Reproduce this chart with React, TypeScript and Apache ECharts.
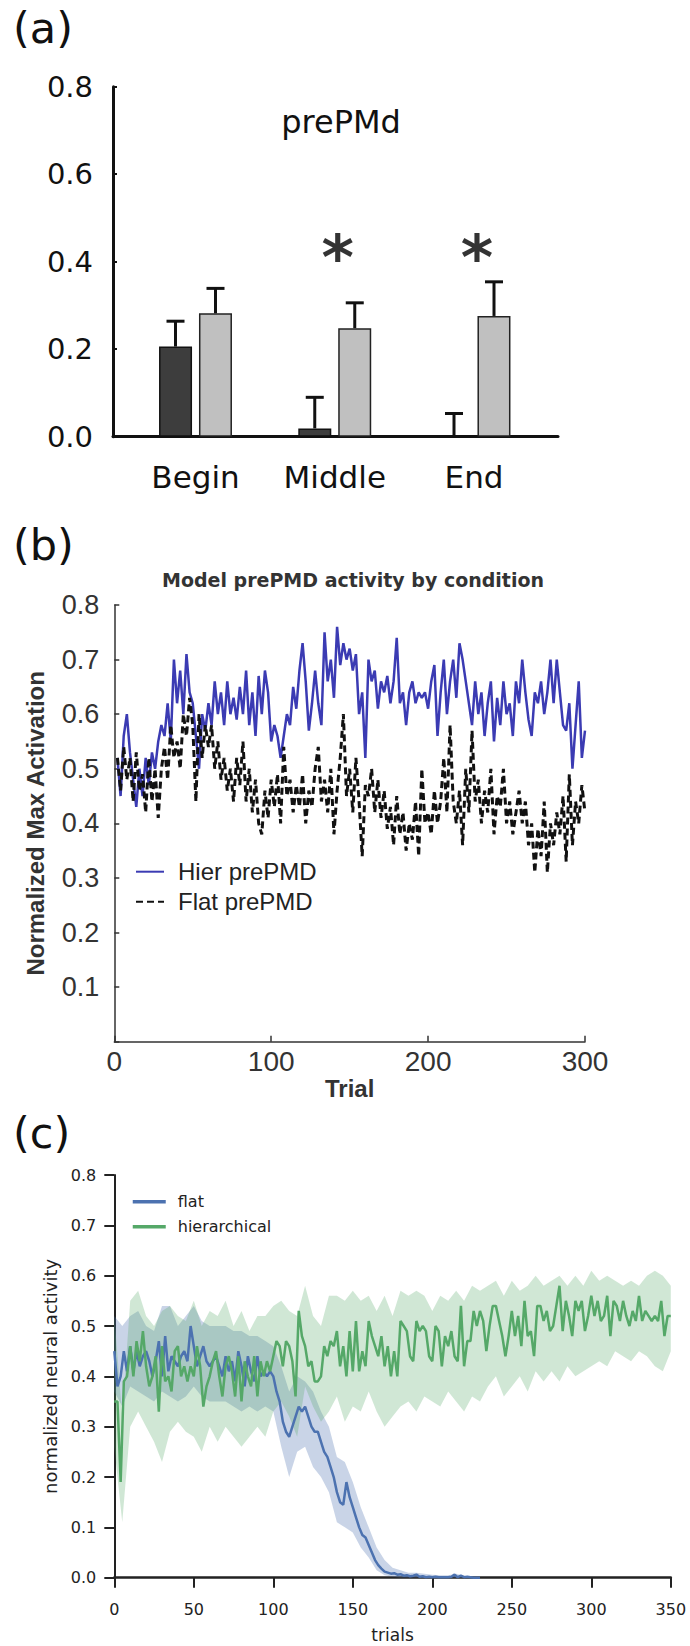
import React, { useEffect, useRef } from 'react';
import * as echarts from 'echarts';

// ---------- Panel (a) data ----------
const categoriesA = ['Begin', 'Middle', 'End'];
const darkMeans = [0.206, 0.019, 0.0];
const darkErrors = [0.058, 0.071, 0.053];
const lightMeans = [0.282, 0.248, 0.276];
const lightErrors = [0.057, 0.058, 0.078];
const significant = [false, true, true];
const asteriskLevel = 0.41;

// ---------- Panel (b) data (trials 2,4,...,300) ----------
const trialStartB = 2;
const trialStepB = 2;
const hierB = [
  0.52, 0.45, 0.56, 0.60, 0.53, 0.48, 0.43, 0.50, 0.45, 0.52,
  0.47, 0.53, 0.50, 0.55, 0.58, 0.56, 0.62, 0.55, 0.70, 0.62,
  0.68, 0.60, 0.71, 0.64, 0.62, 0.56, 0.50, 0.60, 0.57, 0.62,
  0.58, 0.66, 0.60, 0.64, 0.58, 0.66, 0.60, 0.63, 0.59, 0.65,
  0.60, 0.68, 0.58, 0.64, 0.56, 0.67, 0.60, 0.68, 0.64, 0.55,
  0.58, 0.56, 0.52, 0.56, 0.60, 0.58, 0.65, 0.61, 0.68, 0.73,
  0.66, 0.57, 0.62, 0.68, 0.62, 0.58, 0.75, 0.66, 0.70, 0.63,
  0.76, 0.69, 0.73, 0.70, 0.72, 0.68, 0.71, 0.60, 0.64, 0.52,
  0.70, 0.66, 0.68, 0.61, 0.66, 0.64, 0.67, 0.62, 0.66, 0.74,
  0.62, 0.64, 0.58, 0.64, 0.66, 0.62, 0.64, 0.63, 0.64, 0.61,
  0.66, 0.69, 0.56, 0.64, 0.70, 0.60, 0.66, 0.70, 0.63, 0.73,
  0.70, 0.66, 0.62, 0.58, 0.66, 0.60, 0.64, 0.56, 0.62, 0.66,
  0.55, 0.63, 0.58, 0.66, 0.60, 0.62, 0.56, 0.66, 0.62, 0.70,
  0.64, 0.59, 0.56, 0.64, 0.62, 0.66, 0.60, 0.64, 0.70, 0.62,
  0.70, 0.64, 0.58, 0.57, 0.62, 0.50, 0.58, 0.66, 0.52, 0.57,
];
const flatB = [
  0.52, 0.46, 0.54, 0.48, 0.52, 0.44, 0.53, 0.46, 0.49, 0.42,
  0.52, 0.44, 0.50, 0.41, 0.50, 0.54, 0.48, 0.58, 0.52, 0.55,
  0.50, 0.60, 0.56, 0.63, 0.58, 0.44, 0.60, 0.52, 0.58, 0.54,
  0.58, 0.50, 0.55, 0.48, 0.52, 0.46, 0.50, 0.44, 0.52, 0.47,
  0.55, 0.44, 0.50, 0.42, 0.48, 0.40, 0.38, 0.46, 0.41, 0.48,
  0.43, 0.49, 0.40, 0.54, 0.45, 0.48, 0.42, 0.47, 0.43, 0.49,
  0.40, 0.46, 0.43, 0.50, 0.54, 0.44, 0.48, 0.42, 0.50, 0.38,
  0.46, 0.52, 0.60, 0.45, 0.50, 0.42, 0.52, 0.44, 0.34, 0.47,
  0.45, 0.50, 0.42, 0.48, 0.41, 0.46, 0.39, 0.43, 0.36, 0.45,
  0.38, 0.42, 0.35, 0.40, 0.37, 0.44, 0.34, 0.50, 0.40, 0.42,
  0.38, 0.46, 0.40, 0.44, 0.52, 0.42, 0.58, 0.44, 0.40, 0.46,
  0.36, 0.50, 0.42, 0.57, 0.44, 0.48, 0.40, 0.46, 0.42, 0.50,
  0.38, 0.45, 0.43, 0.50, 0.40, 0.44, 0.38, 0.42, 0.46, 0.40,
  0.44, 0.36, 0.40, 0.31, 0.39, 0.34, 0.44, 0.31, 0.40, 0.36,
  0.42, 0.38, 0.45, 0.33, 0.49, 0.36, 0.44, 0.40, 0.47, 0.42,
];

// ---------- Panel (c) data ----------
const trialStepC = 2; // means at trials 0,2,4,...
const hierC = [
  0.35, 0.35, 0.19, 0.39, 0.40, 0.46, 0.40, 0.47, 0.43, 0.49,
  0.42, 0.38, 0.40, 0.44, 0.33, 0.46, 0.39, 0.40, 0.37, 0.45,
  0.46, 0.40, 0.42, 0.39, 0.42, 0.40, 0.46, 0.42, 0.34, 0.38,
  0.40, 0.43, 0.45, 0.40, 0.36, 0.42, 0.44, 0.41, 0.36, 0.44,
  0.35, 0.43, 0.40, 0.38, 0.44, 0.36, 0.43, 0.40, 0.43, 0.41,
  0.44, 0.47, 0.46, 0.42, 0.47, 0.46, 0.43, 0.36, 0.53, 0.48,
  0.46, 0.42, 0.43, 0.39, 0.39, 0.40, 0.46, 0.44, 0.47, 0.46,
  0.49, 0.42, 0.46, 0.40, 0.49, 0.41, 0.51, 0.41, 0.45, 0.42,
  0.51, 0.48, 0.46, 0.44, 0.48, 0.42, 0.46, 0.40, 0.45, 0.40,
  0.51, 0.50, 0.49, 0.44, 0.43, 0.51, 0.49, 0.50, 0.49, 0.44,
  0.43, 0.50, 0.49, 0.42, 0.48, 0.46, 0.49, 0.44, 0.43, 0.54,
  0.42, 0.47, 0.47, 0.53, 0.50, 0.53, 0.51, 0.45, 0.50, 0.54,
  0.54, 0.51, 0.48, 0.44, 0.48, 0.53, 0.48, 0.52, 0.46, 0.55,
  0.48, 0.49, 0.44, 0.54, 0.54, 0.51, 0.53, 0.49, 0.50, 0.54,
  0.58, 0.49, 0.55, 0.52, 0.48, 0.55, 0.53, 0.55, 0.49, 0.52,
  0.56, 0.52, 0.55, 0.51, 0.52, 0.56, 0.48, 0.55, 0.54, 0.51,
  0.55, 0.52, 0.50, 0.53, 0.51, 0.56, 0.51, 0.53, 0.52, 0.51,
  0.52, 0.51, 0.55, 0.48, 0.52, 0.52,
];
const flatC = [
  0.45, 0.38, 0.40, 0.45, 0.41, 0.46, 0.41, 0.45, 0.42, 0.44,
  0.45, 0.43, 0.40, 0.43, 0.47, 0.40, 0.48, 0.41, 0.44, 0.43,
  0.42, 0.44, 0.45, 0.43, 0.50, 0.46, 0.42, 0.44, 0.46, 0.43,
  0.42, 0.43, 0.44, 0.42, 0.40, 0.44, 0.41, 0.43, 0.39, 0.45,
  0.42, 0.38, 0.44, 0.41, 0.39, 0.44, 0.40, 0.41, 0.40, 0.41,
  0.40, 0.37, 0.35, 0.31, 0.29, 0.28, 0.30, 0.32, 0.34, 0.33,
  0.34, 0.32, 0.30, 0.29, 0.29, 0.27, 0.25, 0.24, 0.22, 0.20,
  0.17, 0.15, 0.145, 0.19, 0.16, 0.14, 0.12, 0.10, 0.085, 0.08,
  0.065, 0.05, 0.035, 0.025, 0.018, 0.012, 0.01, 0.008, 0.009, 0.006,
  0.007, 0.004, 0.005, 0.003, 0.004, 0.006, 0.002, 0.003, 0.001, 0.002,
  0.001, 0.002, 0.001, 0.001, 0.001, 0.001, 0.002, 0.006, 0.001, 0.004,
  0.001, 0.002, 0.001, 0.0, 0.0, 0.0,
];
const bandStepC = 5; // band limits at trials 0,5,10,...
const hierUpper = [
  0.52, 0.32, 0.55, 0.57, 0.52, 0.50, 0.53, 0.54, 0.52, 0.51,
  0.55, 0.50, 0.53, 0.52, 0.55, 0.50, 0.53, 0.49, 0.52, 0.52,
  0.54, 0.55, 0.53, 0.52, 0.58, 0.52, 0.50, 0.56, 0.56, 0.55,
  0.57, 0.55, 0.56, 0.53, 0.56, 0.52, 0.57, 0.56, 0.57, 0.56,
  0.53, 0.56, 0.55, 0.57, 0.55, 0.58, 0.57, 0.58, 0.59, 0.56,
  0.59, 0.57, 0.58, 0.60, 0.58, 0.59, 0.60, 0.58, 0.60, 0.58,
  0.61, 0.59, 0.60, 0.59, 0.58, 0.59, 0.58, 0.60, 0.61, 0.60,
  0.58,
];
const hierLower = [
  0.26, 0.11, 0.30, 0.33, 0.30, 0.27, 0.23, 0.29, 0.31, 0.29,
  0.28, 0.25, 0.30, 0.27, 0.30, 0.28, 0.26, 0.28, 0.30, 0.28,
  0.33, 0.35, 0.32, 0.28, 0.38, 0.34, 0.31, 0.33, 0.36, 0.31,
  0.34, 0.33, 0.37, 0.33, 0.30, 0.32, 0.34, 0.35, 0.33, 0.36,
  0.35, 0.34, 0.37, 0.35, 0.33, 0.36, 0.35, 0.38, 0.40, 0.36,
  0.38, 0.40, 0.37, 0.41, 0.39, 0.41, 0.39, 0.42, 0.40, 0.41,
  0.42, 0.43, 0.42, 0.45, 0.44, 0.43, 0.45, 0.44, 0.42, 0.41,
  0.45,
];
const flatUpper = [
  0.52, 0.50, 0.52, 0.53, 0.50, 0.49, 0.54, 0.54, 0.50, 0.52,
  0.54, 0.51, 0.50, 0.50, 0.50, 0.49, 0.49, 0.48, 0.48, 0.47,
  0.46, 0.42, 0.37, 0.40, 0.39, 0.37, 0.33, 0.30, 0.24, 0.23,
  0.19, 0.14, 0.10, 0.06, 0.035, 0.02, 0.015, 0.01, 0.01, 0.008,
  0.006, 0.005, 0.005, 0.008, 0.004, 0.002, 0.0,
];
const flatLower = [
  0.37, 0.34, 0.38, 0.37, 0.36, 0.35, 0.37, 0.36, 0.35, 0.36,
  0.38, 0.36, 0.35, 0.35, 0.35, 0.34, 0.33, 0.34, 0.33, 0.34,
  0.33, 0.26, 0.20, 0.25, 0.26, 0.22, 0.20, 0.17, 0.11, 0.10,
  0.09, 0.06, 0.04, 0.015, 0.005, 0.002, 0.0, 0.0, 0.0, 0.0,
  0.0, 0.0, 0.0, 0.0, 0.0, 0.0, 0.0,
];

const FA = 'DejaVu Sans';
const FB = 'Liberation Sans';

function xy(values: number[], start: number, step: number) {
  return values.map((v, i) => [start + i * step, v]);
}

function bandSeries(name: string, lower: number[], upper: number[], step: number, fill: string) {
  const data = lower.map((lo, i) => [i * step, lo, upper[i]]);
  return {
    type: 'custom', name, xAxisIndex: 2, yAxisIndex: 2, z: 1, silent: true,
    data, encode: { x: 0, y: [1, 2] },
    renderItem: (params: any, api: any) => {
      if (params.dataIndex !== 0) return null;
      const top = data.map((d) => api.coord([d[0], d[2]]));
      const bottom = data.map((d) => api.coord([d[0], d[1]])).reverse();
      return { type: 'polygon', shape: { points: top.concat(bottom) }, style: { fill, stroke: 'none' } };
    },
  };
}

export default function App() {
  const ref = useRef<HTMLDivElement>(null);
  useEffect(() => {
    if (!ref.current) return;
    const chart = echarts.init(ref.current, undefined, { renderer: 'svg' });

    const BLUE_C = '#4c72b0';
    const GREEN_C = '#55a868';

    const option: any = {
      animation: false,
      backgroundColor: '#ffffff',
      textStyle: { fontFamily: FA },
      grid: [
        { left: 113, top: 86.7, width: 445, height: 350, outerBoundsMode: 'none' },
        { left: 114.3, top: 605, width: 470.7, height: 436.7, outerBoundsMode: 'none' },
        { left: 114.3, top: 1175, width: 556.5, height: 402.7, outerBoundsMode: 'none' },
      ],
      xAxis: [
        {
          gridIndex: 0, type: 'value', min: 0.4075, max: 3.6032,
          axisLine: { show: true, lineStyle: { color: '#111', width: 3 } },
          axisTick: { show: false },
          splitLine: { show: false },
          axisLabel: {
            customValues: [1, 2, 3],
            formatter: (v: number) => categoriesA[Math.round(v) - 1] || '',
            fontFamily: FA, fontSize: 31, color: '#111', margin: 25,
          },
        },
        {
          gridIndex: 1, type: 'value', min: 0, max: 300, interval: 100,
          name: 'Trial', nameLocation: 'middle', nameGap: 34,
          nameTextStyle: { fontFamily: FB, fontWeight: 'bold', fontSize: 24, color: '#333' },
          axisLine: { show: true, lineStyle: { color: '#333', width: 1.5 } },
          axisTick: { show: true, inside: true, length: 6, lineStyle: { color: '#333', width: 1.5 } },
          splitLine: { show: false },
          axisLabel: { fontFamily: FB, fontSize: 28, color: '#333', margin: 6 },
        },
        {
          gridIndex: 2, type: 'value', min: 0, max: 350, interval: 50,
          name: 'trials', nameLocation: 'middle', nameGap: 49,
          nameTextStyle: { fontFamily: FA, fontSize: 17, color: '#222' },
          axisLine: { show: true, lineStyle: { color: '#222', width: 2.5 } },
          axisTick: { show: true, inside: false, length: 10, lineStyle: { color: '#222', width: 2 } },
          splitLine: { show: false },
          axisLabel: { fontFamily: FA, fontSize: 16, color: '#222', margin: 24 },
        },
      ],
      yAxis: [
        {
          gridIndex: 0, type: 'value', min: 0, max: 0.8, interval: 0.2,
          axisLine: { show: true, lineStyle: { color: '#111', width: 3 } },
          axisTick: { show: true, inside: true, length: 4, lineStyle: { color: '#111', width: 2 } },
          splitLine: { show: false },
          axisLabel: { fontFamily: FA, fontSize: 29, color: '#111', margin: 20, formatter: (v: number) => v.toFixed(1) },
        },
        {
          gridIndex: 1, type: 'value', min: 0, max: 0.8, interval: 0.1,
          name: 'Normalized Max Activation', nameLocation: 'middle', nameGap: 67,
          nameTextStyle: { fontFamily: FB, fontWeight: 'bold', fontSize: 24, color: '#333' },
          axisLine: { show: true, lineStyle: { color: '#333', width: 1.5 } },
          axisTick: { show: true, inside: true, length: 5, lineStyle: { color: '#333', width: 1.5 } },
          splitLine: { show: false },
          axisLabel: { fontFamily: FB, fontSize: 27, color: '#333', margin: 15, formatter: (v: number) => (v === 0 ? '' : v.toFixed(1)) },
        },
        {
          gridIndex: 2, type: 'value', min: 0, max: 0.8, interval: 0.1,
          name: 'normalized neural activity', nameLocation: 'middle', nameGap: 50,
          nameTextStyle: { fontFamily: FA, fontSize: 18, color: '#222' },
          axisLine: { show: true, lineStyle: { color: '#222', width: 2 } },
          axisTick: { show: true, inside: false, length: 10, lineStyle: { color: '#222', width: 2 } },
          splitLine: { show: false },
          axisLabel: { fontFamily: FA, fontSize: 16, color: '#222', margin: 18, formatter: (v: number) => v.toFixed(1) },
        },
      ],
      legend: [
        {
          data: ['Hier prePMD', 'Flat prePMD'], orient: 'vertical', left: 130, top: 854.7,
          itemWidth: 28, itemHeight: 14, itemGap: 6, selectedMode: false,
          itemStyle: { opacity: 0, borderWidth: 0 },
          textStyle: { fontFamily: FB, fontSize: 24, color: '#222', padding: [0, 0, 0, 9] },
        },
        {
          data: ['flat', 'hierarchical'], orient: 'vertical', left: 126, top: 1188.7,
          itemWidth: 33, itemHeight: 12, itemGap: 9, selectedMode: false,
          itemStyle: { opacity: 0, borderWidth: 0 },
          lineStyle: { width: 3.5 },
          textStyle: { fontFamily: FA, fontSize: 16, color: '#222', padding: [0, 0, 0, 7] },
        },
      ],
      graphic: [
        { type: 'text', x: 13, y: 27.7, style: { text: '(a)', font: '43px "DejaVu Sans"', fill: '#111', verticalAlign: 'middle' } },
        { type: 'text', x: 13, y: 544.7, style: { text: '(b)', font: '43px "DejaVu Sans"', fill: '#111', verticalAlign: 'middle' } },
        { type: 'text', x: 13, y: 1132.7, style: { text: '(c)', font: '43px "DejaVu Sans"', fill: '#111', verticalAlign: 'middle' } },
        { type: 'text', x: 341, y: 122, style: { text: 'prePMd', font: '32px "DejaVu Sans"', fill: '#111', align: 'center', verticalAlign: 'middle' } },
        { type: 'text', x: 353, y: 580, style: { text: 'Model prePMD activity by condition', font: 'bold 19px "DejaVu Sans"', fill: '#333', align: 'center', verticalAlign: 'middle' } },
      ],
      series: [
        // ---- (a) ----
        {
          type: 'bar', name: 'darkBars', xAxisIndex: 0, yAxisIndex: 0,
          data: darkMeans.map((v, i) => [i + 1, v]),
          barWidth: 33, barGap: '21%',
          itemStyle: { color: '#3d3d3d', borderColor: '#111', borderWidth: 1.5 },
        },
        {
          type: 'bar', name: 'lightBars', xAxisIndex: 0, yAxisIndex: 0,
          data: lightMeans.map((v, i) => [i + 1, v]),
          barWidth: 33, barGap: '21%',
          itemStyle: { color: '#c0c0c0', borderColor: '#222', borderWidth: 1.5 },
        },
        {
          type: 'custom', name: 'errorBars', xAxisIndex: 0, yAxisIndex: 0, z: 5,
          data: [
            ...darkMeans.map((m, i) => [i + 1, m, m + darkErrors[i], -1]),
            ...lightMeans.map((m, i) => [i + 1, m, m + lightErrors[i], 1]),
          ],
          encode: { x: 0, y: [1, 2] },
          renderItem: (params: any, api: any) => {
            const p0 = api.coord([api.value(0), api.value(1)]);
            const p1 = api.coord([api.value(0), api.value(2)]);
            const cx = p0[0] + api.value(3) * 20;
            return {
              type: 'group',
              children: [
                { type: 'line', shape: { x1: cx, y1: p0[1], x2: cx, y2: p1[1] }, style: { stroke: '#111', lineWidth: 3 } },
                { type: 'line', shape: { x1: cx - 9, y1: p1[1], x2: cx + 9, y2: p1[1] }, style: { stroke: '#111', lineWidth: 3 } },
              ],
            };
          },
        },
        {
          type: 'scatter', name: 'asterisks', xAxisIndex: 0, yAxisIndex: 0, z: 6,
          data: categoriesA.map((c, i) => [i + 1, asteriskLevel]).filter((_, i) => significant[i]),
          symbolSize: 2, itemStyle: { color: 'rgba(0,0,0,0)' },
          label: { show: true, formatter: '*', position: 'inside', offset: [3, 0], fontFamily: FA, fontWeight: 'bold', fontSize: 62, color: '#000' },
        },
        // ---- (b) ----
        {
          type: 'line', name: 'Hier prePMD', xAxisIndex: 1, yAxisIndex: 1,
          data: xy(hierB, trialStartB, trialStepB), symbol: 'none',
          lineStyle: { color: '#3b3bb3', width: 2.5 }, itemStyle: { color: '#3b3bb3' },
        },
        {
          type: 'line', name: 'Flat prePMD', xAxisIndex: 1, yAxisIndex: 1,
          data: xy(flatB, trialStartB, trialStepB), symbol: 'none',
          lineStyle: { color: '#111', width: 3, type: [7, 4] }, itemStyle: { color: '#111' },
        },
        // ---- (c) bands ----
        bandSeries('flatBand', flatLower, flatUpper, bandStepC, 'rgba(76,114,176,0.3)'),
        bandSeries('hierBand', hierLower, hierUpper, bandStepC, 'rgba(85,168,104,0.28)'),
        // ---- (c) lines ----
        {
          type: 'line', name: 'flat', xAxisIndex: 2, yAxisIndex: 2, z: 3,
          data: xy(flatC, 0, trialStepC), symbol: 'none',
          lineStyle: { color: BLUE_C, width: 2.5 }, itemStyle: { color: BLUE_C },
        },
        {
          type: 'line', name: 'hierarchical', xAxisIndex: 2, yAxisIndex: 2, z: 3,
          data: xy(hierC, 0, trialStepC), symbol: 'none',
          lineStyle: { color: GREEN_C, width: 2.5 }, itemStyle: { color: GREEN_C },
        },
      ],
    };

    chart.setOption(option);
    return () => chart.dispose();
  }, []);

  return (
    <div
      ref={ref}
      style={{ position: 'absolute', left: 0, top: 0, width: 690, height: 1646, background: '#fff' }}
    />
  );
}
